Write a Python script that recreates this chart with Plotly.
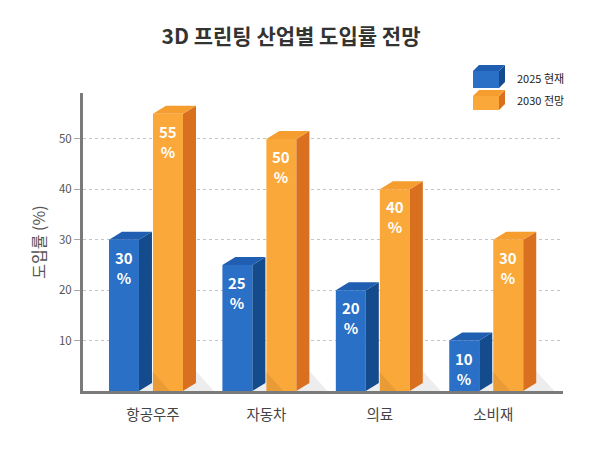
import plotly.graph_objects as go

# ---------------- data ----------------
categories = ["항공우주", "자동차", "의료", "소비재"]
values_2025 = [30, 25, 20, 10]
values_2030 = [55, 50, 40, 30]
series_names = ["2025 현재", "2030 전망"]
y_ticks = [10, 20, 30, 40, 50]
title_text = "3D 프린팅 산업별 도입률 전망"
y_title = "도입률 (%)"

# ---------------- layout geometry / style ----------------
W, H = 600, 453
L, R, T, B = 83, 37, 93, 62
X_RANGE = [-0.617, 3.615]
Y_RANGE = [0, 59.1]
PX_X = (W - L - R) / (X_RANGE[1] - X_RANGE[0])
PX_Y = (H - T - B) / (Y_RANGE[1] - Y_RANGE[0])

BAR_W = 30 / PX_X
OFFSETS = [-44 / PX_X, 0.0]
DX = 13 / PX_X
DY = 8 / PX_Y

FONT = "Noto Sans CJK KR"
STYLES = [
    dict(front="#2a70c6", side="#134b8c", top="#1f5eb0"),
    dict(front="#fba83b", side="#d8701f", top="#f59d2f"),
]

series_values = [values_2025, values_2030]
idx = list(range(len(categories)))

fig = go.Figure()

# soft shadows behind the bars
for s, vals in enumerate(series_values):
    xs, ys = [], []
    for i, v in enumerate(vals):
        xr = i + OFFSETS[s] + BAR_W
        xs += [xr, xr + DX, xr + DX, xr + DX + 18 / PX_X, xr, None]
        ys += [0, DY, DY + 12 / PX_Y, 0, 0, None]
    fig.add_trace(go.Scatter(
        x=xs, y=ys, mode="lines", fill="toself",
        fillcolor="rgba(0,0,0,0.07)",
        line=dict(width=0, color="rgba(0,0,0,0)"),
        hoverinfo="skip", showlegend=False))

for s, vals in enumerate(series_values):
    st = STYLES[s]
    # front faces
    fig.add_trace(go.Bar(
        x=idx, y=vals, width=BAR_W, offset=OFFSETS[s],
        marker=dict(color=st["front"], line=dict(width=0)),
        name=series_names[s], showlegend=False, hoverinfo="skip"))
    # side faces
    xs, ys = [], []
    for i, v in enumerate(vals):
        xr = i + OFFSETS[s] + BAR_W
        xs += [xr, xr + DX, xr + DX, xr, xr, None]
        ys += [0, DY, v + DY, v, 0, None]
    fig.add_trace(go.Scatter(
        x=xs, y=ys, mode="lines", fill="toself", fillcolor=st["side"],
        line=dict(width=0, color=st["side"]), hoverinfo="skip", showlegend=False))
    # top faces
    xs, ys = [], []
    for i, v in enumerate(vals):
        xl = i + OFFSETS[s]
        xr = xl + BAR_W
        xs += [xl, xl + DX, xr + DX, xr, xl, None]
        ys += [v, v + DY, v + DY, v, v, None]
    fig.add_trace(go.Scatter(
        x=xs, y=ys, mode="lines", fill="toself", fillcolor=st["top"],
        line=dict(width=0, color=st["top"]), hoverinfo="skip", showlegend=False))

# value labels
annotations = []
for s, vals in enumerate(series_values):
    for i, v in enumerate(vals):
        xc = i + OFFSETS[s] + BAR_W / 2
        annotations.append(dict(x=xc, y=v, xref="x", yref="y", text=f"<b>{v}<br>%</b>",
                                showarrow=False, yanchor="top", yshift=-5,
                                font=dict(family=FONT, size=15, color="white")))

# custom 3D legend
def px2p(px, py):
    return (px - L) / (W - L - R), (H - B - py) / (H - T - B)

def path(points):
    pts = [px2p(*p) for p in points]
    return "M " + " L ".join(f"{a},{b}" for a, b in pts) + " Z"

shapes = []
legend_boxes = [(473, 71, 88, 78), (473, 96, 110, 100)]
for s, (x0, ytop, ybot, ytext) in enumerate(legend_boxes):
    st = STYLES[s]
    fw, d = 26, 6
    shapes.append(dict(type="path", xref="paper", yref="paper", line=dict(width=0),
                       fillcolor=st["front"], path=path([(x0, ytop), (x0 + fw, ytop), (x0 + fw, ybot), (x0, ybot)])))
    shapes.append(dict(type="path", xref="paper", yref="paper", line=dict(width=0),
                       fillcolor=st["side"], path=path([(x0 + fw, ytop), (x0 + fw + d, ytop - d), (x0 + fw + d, ybot - d), (x0 + fw, ybot)])))
    shapes.append(dict(type="path", xref="paper", yref="paper", line=dict(width=0),
                       fillcolor=st["top"], path=path([(x0, ytop), (x0 + d, ytop - d), (x0 + fw + d, ytop - d), (x0 + fw, ytop)])))
    tx, ty = px2p(515, ytext)
    annotations.append(dict(x=tx, y=ty, xref="paper", yref="paper", text=series_names[s],
                            showarrow=False, xanchor="left", yanchor="middle",
                            font=dict(family=FONT, size=11, color="#1a1a1a")))

fig.update_layout(
    width=W, height=H,
    margin=dict(l=L, r=R, t=T, b=B),
    paper_bgcolor="white", plot_bgcolor="white",
    barmode="overlay",
    showlegend=False,
    title=dict(text=f"<b>{title_text}</b>", x=291 / W, xanchor="center",
               y=1 - 37 / H, yanchor="middle",
               font=dict(family=FONT, size=21, color="#333333")),
    xaxis=dict(range=X_RANGE, tickvals=idx, ticktext=categories,
               showline=True, linecolor="#7a7a7a", linewidth=3,
               showgrid=False, zeroline=False,
               ticks="outside", ticklen=9, tickcolor="rgba(0,0,0,0)",
               tickfont=dict(family=FONT, size=14.5, color="#444444")),
    yaxis=dict(range=Y_RANGE, tickvals=y_ticks,
               showline=True, linecolor="#7a7a7a", linewidth=3,
               showgrid=True, gridcolor="#c4c4c4", griddash="dot", gridwidth=1,
               zeroline=False, ticks="outside", ticklen=6, tickcolor="#aaaaaa",
               tickfont=dict(family=FONT, size=11.5, color="#555555"),
               title=dict(text=y_title, standoff=10,
                          font=dict(family=FONT, size=16, color="#555555"))),
    shapes=shapes,
    annotations=annotations,
)

fig.write_html("out.html")
